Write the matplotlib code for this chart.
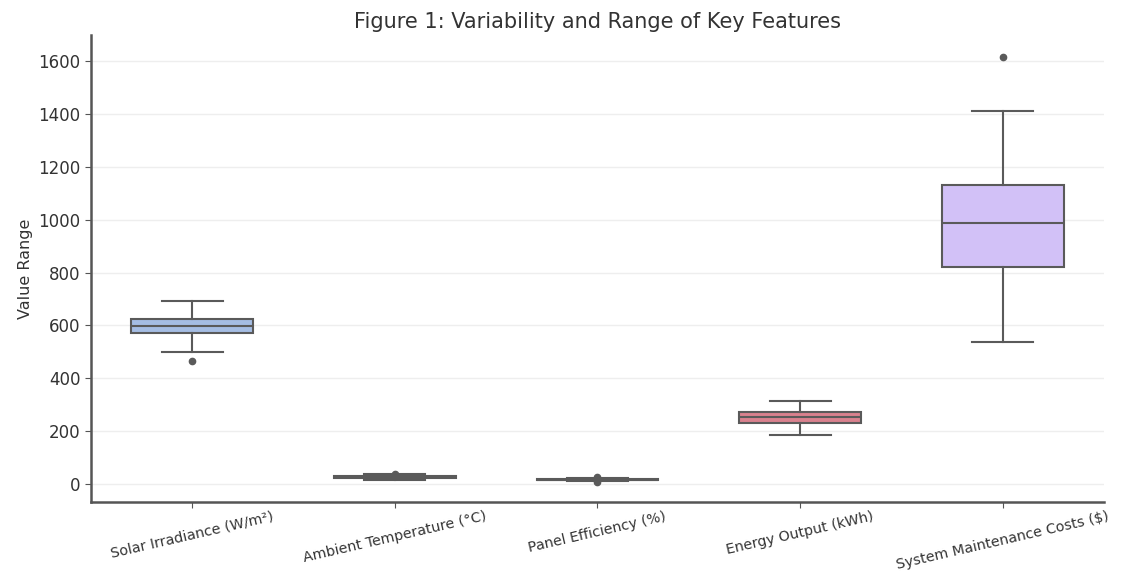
import matplotlib.pyplot as plt

# -----------------------------------------
# summary statistics per feature
# -----------------------------------------
features = [
    "Solar Irradiance (W/m²)",
    "Ambient Temperature (°C)",
    "Panel Efficiency (%)",
    "Energy Output (kWh)",
    "System Maintenance Costs ($)",
]
whisker_low = [500, 14, 9, 186, 538]
q1 = [570, 22, 14, 232, 820]
median = [598, 25, 16, 252, 987]
q3 = [623, 28, 18, 270, 1130]
whisker_high = [691, 36, 23, 315, 1414]
outliers = [[466], [38], [6, 27], [], [1616]]

box_colors = ["#a5bde3", "#f2b78e", "#95d6a4", "#d9818e", "#d2c1f7"]

stats = []
for i, name in enumerate(features):
    stats.append({
        "label": name,
        "whislo": whisker_low[i],
        "q1": q1[i],
        "med": median[i],
        "q3": q3[i],
        "whishi": whisker_high[i],
        "fliers": outliers[i],
    })

# -----------------------------------------
# plot
# -----------------------------------------
fig, ax = plt.subplots(figsize=(11.21, 5.74), dpi=100)
fig.subplots_adjust(left=0.081, right=0.985, top=0.939, bottom=0.125)

edge = "#5a5a5a"
parts = ax.bxp(
    stats,
    positions=range(len(features)),
    widths=0.6,
    patch_artist=True,
    boxprops=dict(edgecolor=edge, linewidth=1.5),
    medianprops=dict(color=edge, linewidth=1.5),
    whiskerprops=dict(color=edge, linewidth=1.5),
    capprops=dict(color=edge, linewidth=1.5),
    flierprops=dict(marker="o", markerfacecolor=edge, markeredgecolor=edge,
                    markersize=4.5),
)
for patch, c in zip(parts["boxes"], box_colors):
    patch.set_facecolor(c)

ax.set_xlim(-0.5, len(features) - 0.5)
ax.set_ylim(-70, 1700)
ax.set_yticks(range(0, 1601, 200))
ax.set_xticks(range(len(features)))
ax.set_xticklabels(features, rotation=13, ha="center", fontsize=10.3, color="#333333")
ax.tick_params(axis="y", labelsize=12, colors="#333333")
ax.tick_params(axis="x", pad=1)
ax.tick_params(direction="out", length=4, color="#555555")

ax.yaxis.grid(True, color="#eeeeee", linewidth=1)
ax.set_axisbelow(True)
for side in ["top", "right"]:
    ax.spines[side].set_visible(False)
for side in ["left", "bottom"]:
    ax.spines[side].set_color("#555555")
    ax.spines[side].set_linewidth(1.8)

ax.set_ylabel("Value Range", fontsize=11.5, color="#333333")
ax.set_title("Figure 1: Variability and Range of Key Features", fontsize=15,
             color="#333333", pad=5)

plt.savefig("out.png")
